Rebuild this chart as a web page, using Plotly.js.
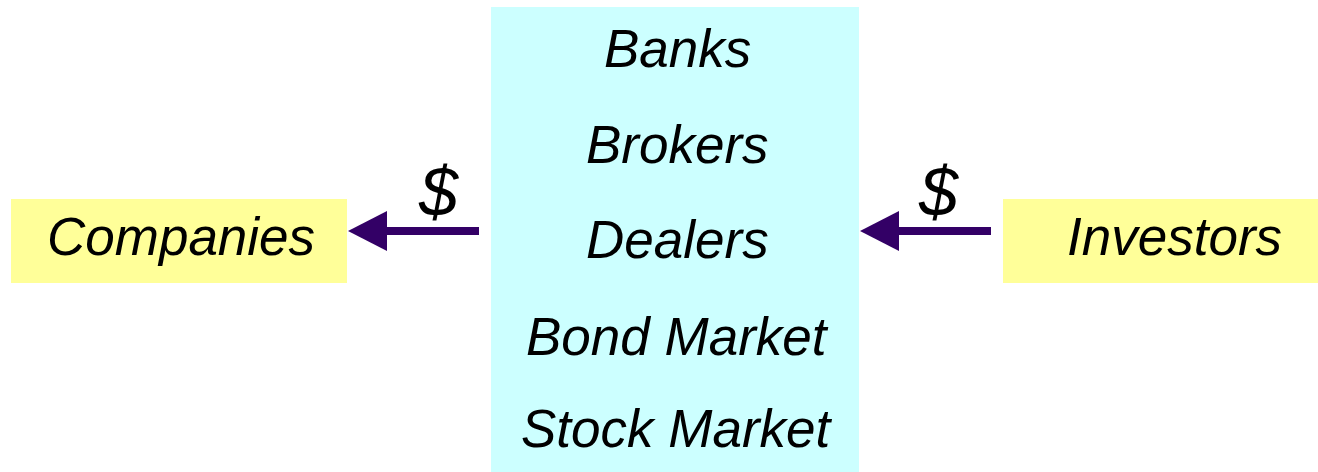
<!DOCTYPE html>
<html>
<head>
<meta charset="utf-8">
<script src="https://cdn.plot.ly/plotly-3.0.1.min.js"></script>
<style>html,body{margin:0;padding:0;background:#fff;}#chart{width:1318px;height:472px;}</style>
</head>
<body>
<div id="chart"></div>
<script>
// Diagram content
const intermediaries = ["Banks", "Brokers", "Dealers", "Bond Market", "Stock Market"];
const leftParty = "Companies";
const rightParty = "Investors";
const flowLabel = "$";

// Layout geometry (pixels, y downward)
const W = 1318, H = 472;
const midBox = {x0: 491, x1: 859, y0: 7, y1: 472};
const leftBox = {x0: 11, x1: 347, y0: 199, y1: 283};
const rightBox = {x0: 1003, x1: 1318, y0: 199, y1: 283};
const midRowsY = [48, 144, 239, 336, 428];
const arrowY = 231;
const arrowColor = "#330066";
const fontFam = "Liberation Sans, Arial, sans-serif";
const fsize = 53;

function rect(b, color) {
  return {type: "rect", xref: "x", yref: "y", x0: b.x0, x1: b.x1, y0: b.y0, y1: b.y1,
          fillcolor: color, line: {width: 0}, layer: "below"};
}
function arrow(tipX, baseX, tailX) {
  return [
    {type: "line", xref: "x", yref: "y", x0: baseX - 2, x1: tailX, y0: arrowY, y1: arrowY,
     line: {color: arrowColor, width: 8}},
    {type: "path", xref: "x", yref: "y",
     path: `M ${tipX} ${arrowY} L ${baseX} ${arrowY - 20} L ${baseX} ${arrowY + 20} Z`,
     fillcolor: arrowColor, line: {width: 0}}
  ];
}

const shapes = [
  rect(midBox, "#CCFFFF"),
  rect(leftBox, "#FFFF99"),
  rect(rightBox, "#FFFF99"),
  ...arrow(348, 387, 479),
  ...arrow(860, 899, 991)
];

function ann(text, x, y, size) {
  return {text: "<i>" + text + "</i>", x: x, y: y, xref: "x", yref: "y",
          showarrow: false, xanchor: "center", yanchor: "middle",
          font: {family: fontFam, size: size || fsize, color: "#000"}};
}

const annotations = [
  ...intermediaries.map((t, i) => ann(t, 677, midRowsY[i])),
  ann(leftParty, 181, 236),
  ann(rightParty, 1174, 236),
  ann(flowLabel, 438, 192, 70),
  ann(flowLabel, 938, 192, 70)
];

const layout = {
  width: W, height: H,
  margin: {l: 0, r: 0, t: 0, b: 0},
  paper_bgcolor: "#fff", plot_bgcolor: "#fff",
  xaxis: {range: [0, W], visible: false, fixedrange: true},
  yaxis: {range: [H, 0], visible: false, fixedrange: true},
  shapes: shapes,
  annotations: annotations,
  showlegend: false
};

Plotly.newPlot("chart", [], layout, {displayModeBar: false, staticPlot: true});
</script>
</body>
</html>
